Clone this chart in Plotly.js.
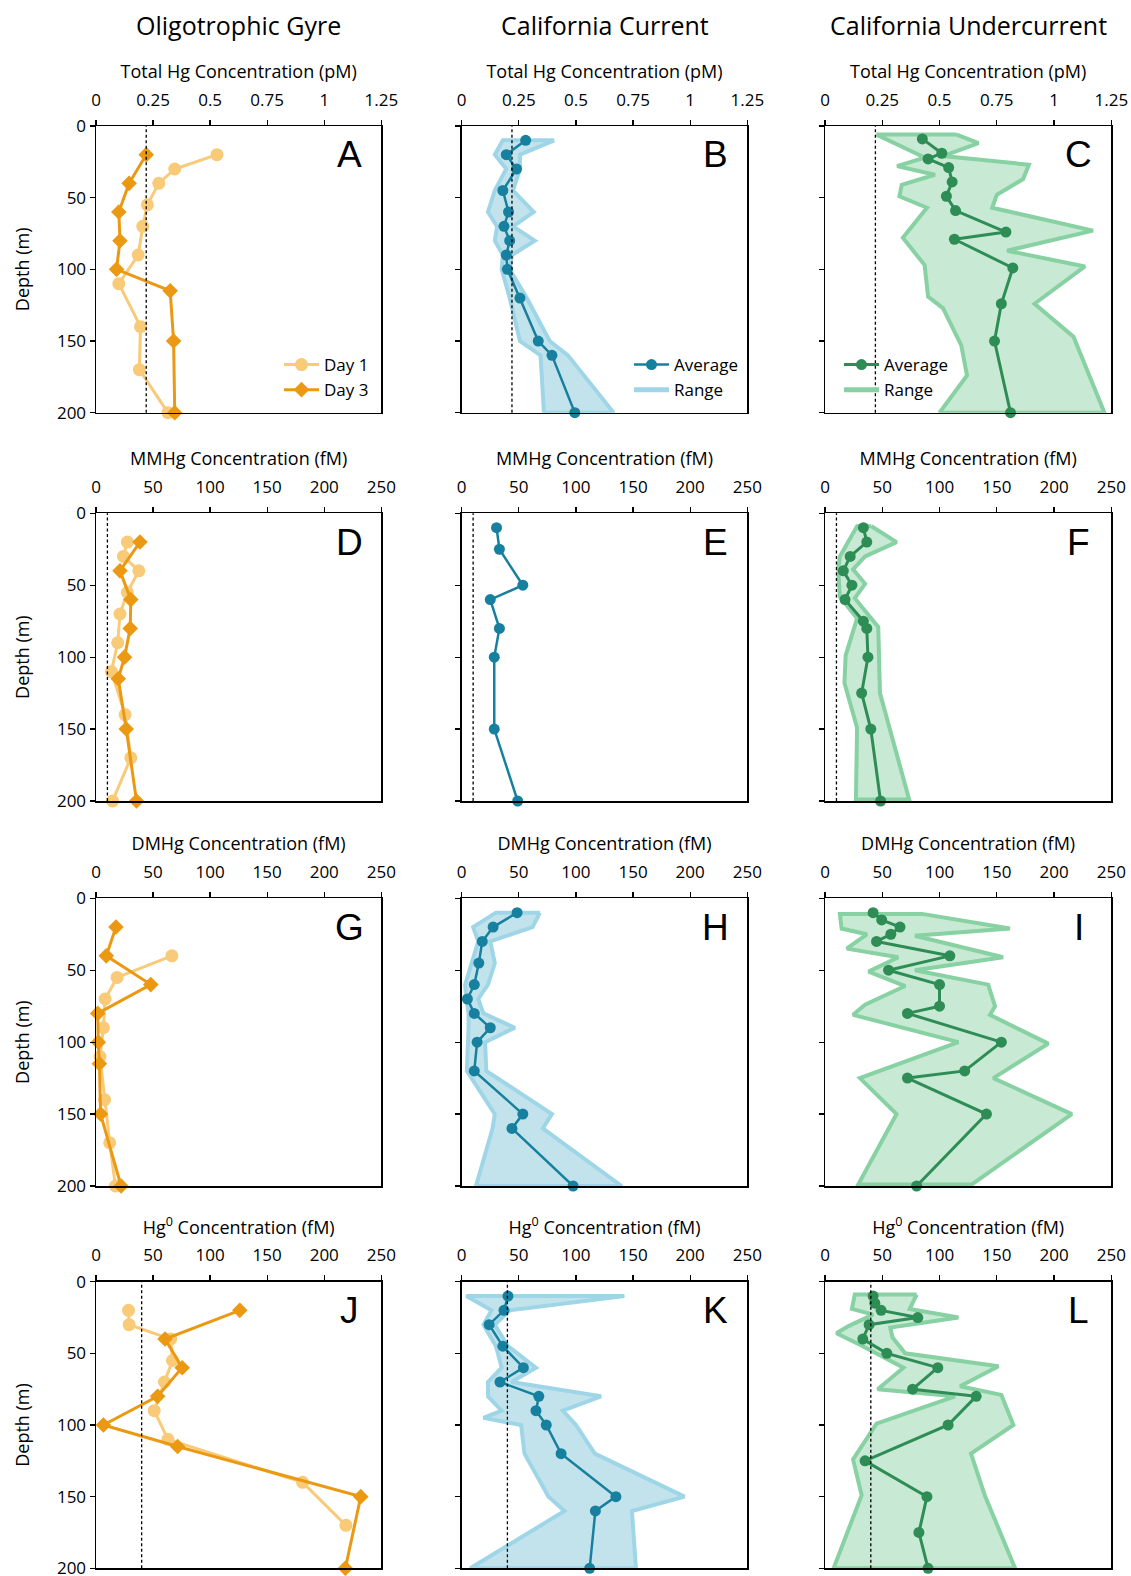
<!DOCTYPE html>
<html><head><meta charset="utf-8">
<script src="https://cdn.plot.ly/plotly-3.0.1.min.js"></script>
<style>html,body{margin:0;padding:0;background:#fff}#chart{width:1131px;height:1576px}</style>
</head><body><div id="chart"></div>
<script>
// ---------------- DATA ----------------
const columnTitles = ['Oligotrophic Gyre', 'California Current', 'California Undercurrent'];
const xAxisTitles = ['Total Hg Concentration (pM)', 'MMHg Concentration (fM)', 'DMHg Concentration (fM)', 'Hg<sup>0</sup> Concentration (fM)'];
const panelLetters = ['A','B','C','D','E','F','G','H','I','J','K','L'];
const depthTicks = [0, 50, 100, 150, 200];

// Oligotrophic gyre sampling depths (m)
const gyreDay1Depth = [20, 30, 40, 55, 70, 90, 110, 140, 170, 200];
const gyreDay3Depth = [20, 40, 60, 80, 100, 115, 150, 200];
// California Current average depths (m)
const ccDepth = [10, 20, 30, 45, 60, 70, 80, 90, 100, 120, 150, 160, 200];

// Detection limits (dashed lines)
const dlTHg = 0.22;   // pM
const dlMMHg = 10;    // fM
const dlHg0 = 40;     // fM

// A: Total Hg, gyre (pM)
const A_day1 = [0.53, 0.345, 0.275, 0.225, 0.205, 0.185, 0.10, 0.195, 0.19, 0.315];
const A_day3 = [0.22, 0.145, 0.10, 0.105, 0.09, 0.325, 0.34, 0.345];
// B: Total Hg, California Current (pM)
const B_avg = [0.28, 0.195, 0.24, 0.18, 0.205, 0.185, 0.21, 0.195, 0.20, 0.255, 0.335, 0.395, 0.495];
const B_max = [0.405, 0.255, 0.255, 0.225, 0.315, 0.225, 0.32, 0.22, 0.21, 0.285, 0.385, 0.465, 0.665];
const B_min = [0.18, 0.145, 0.195, 0.145, 0.115, 0.155, 0.145, 0.18, 0.175, 0.21, 0.255, 0.345, 0.36];
// C: Total Hg, California Undercurrent (pM)
const C_depth = [9, 19, 23, 29, 39, 49, 59, 74, 79, 99, 124, 150, 200];
const C_avg = [0.425, 0.51, 0.45, 0.54, 0.555, 0.53, 0.57, 0.79, 0.565, 0.82, 0.77, 0.74, 0.81];
const C_maxDepth = [6, 12, 21, 27, 37, 48, 57, 73, 87, 98, 124, 147, 200];
const C_max = [0.575, 0.67, 0.515, 0.89, 0.865, 0.75, 0.73, 1.17, 0.795, 1.135, 0.915, 1.085, 1.22];
const C_minDepth = [6, 22, 28, 34, 41, 49, 57, 78, 97, 119, 127, 153, 174, 200];
const C_min = [0.225, 0.435, 0.315, 0.48, 0.335, 0.325, 0.445, 0.34, 0.435, 0.45, 0.515, 0.595, 0.62, 0.50];

// D: MMHg, gyre (fM)
const D_day1 = [27.5, 24, 37.5, 27.5, 21, 19, 13.5, 25.5, 30.5, 14.5];
const D_day3 = [38.5, 21, 30.5, 30, 25, 19.5, 26.5, 35.5];
// E: MMHg, California Current (fM)
const E_depth = [10, 25, 50, 60, 80, 100, 150, 200];
const E_avg = [30.5, 33, 53.5, 25, 33, 28.5, 28.5, 49];
// F: MMHg, California Undercurrent (fM)
const F_depth = [10, 20, 30, 40, 50, 60, 75, 80, 100, 125, 150, 200];
const F_avg = [33.5, 36.5, 22, 16, 23.5, 17.5, 33.5, 36.5, 37.5, 32, 40, 48.5];
const F_maxDepth = [9, 20, 30, 39, 49, 59, 79, 99, 125, 199];
const F_max = [40.5, 62.5, 35, 24.5, 35, 26, 46.5, 47.5, 48, 73.5];
const F_minDepth = [9, 30, 39, 58, 73, 99, 118, 149, 199];
const F_min = [28, 13, 11.5, 13, 28, 18, 17, 28, 27];

// G: DMHg, gyre (fM)
const G_day1Depth = [40, 55, 70, 90, 110, 140, 170, 200];
const G_day1 = [66.5, 18.5, 8, 6.5, 3.5, 7.5, 12, 17];
const G_day3 = [17.5, 9, 48, 1.5, 2, 3, 4, 22];
// H: DMHg, California Current (fM)
const H_avg = [48.5, 27.5, 18, 15, 11, 5, 11, 25, 13.5, 11, 53.5, 44, 97.5];
const H_max = [68.5, 62, 25, 29, 23, 14.5, 19, 46.5, 20.5, 21.5, 79, 71, 140];
const H_min = [30, 10, 14.5, 9, 3, 4, 6, 6, 6, 4.5, 29, 27, 12.5];
// I: DMHg, California Undercurrent (fM)
const I_depth = [10, 15, 20, 25, 30, 40, 50, 60, 75, 80, 100, 120, 125, 150, 200];
const I_avg = [42, 49.5, 65.5, 57.5, 45, 109, 55.5, 100, 100, 72, 154, 122, 72, 141, 80];
const I_maxDepth = [11, 21, 26, 41, 50, 60, 75, 81, 101, 125, 150, 199];
const I_max = [86, 161.5, 78.5, 155.5, 78.5, 142.5, 148.5, 144, 195, 147, 215.5, 128];
const I_minDepth = [11, 21, 25, 35, 41, 51, 61, 74, 81, 100, 125, 150, 199];
const I_min = [13, 14.5, 36.5, 19, 64, 38, 70, 35, 24.5, 116.5, 30.5, 62.5, 29];

// J: Hg0, gyre (fM)
const J_day1Depth = [20, 30, 40, 55, 70, 90, 110, 140, 170];
const J_day1 = [28.5, 29, 65.5, 67, 60, 51, 63, 181, 219];
const J_day3 = [126, 60.5, 75.5, 54, 6.5, 71.5, 232, 218.5];
// K: Hg0, California Current (fM)
const K_avg = [40.5, 37, 24, 36, 54, 33.5, 67.5, 65, 74, 87, 135, 117, 112];
const K_max = [142.5, 42, 29, 40.5, 65, 43.5, 122, 88.5, 100, 116.5, 195, 149, 152.5];
const K_minDepth = [10, 20, 30, 45, 60, 70, 80, 90, 95, 100, 120, 150, 160, 200];
const K_min = [4, 26, 19, 30, 35, 23, 23, 35, 19, 52, 55, 76, 90, 7.5];
// L: Hg0, California Undercurrent (fM)
const L_depth = [10, 15, 20, 25, 30, 40, 50, 60, 75, 80, 100, 125, 150, 175, 200];
const L_avg = [42, 43.5, 49, 81, 38.5, 33, 54, 98.5, 76.5, 132, 107.5, 35, 89, 82, 90];
const L_maxDepth = [9, 19, 25, 32, 39, 50, 59, 73, 79, 100, 120, 149, 200];
const L_max = [80, 74, 116.5, 57, 59, 70, 151.5, 118, 154, 164.5, 127.5, 139.5, 166];
const L_minDepth = [9, 19, 23, 31, 36, 44, 60, 75, 80, 99, 124, 149, 200];
const L_min = [26, 23.5, 42, 20.5, 10, 30.5, 68.5, 46, 113.5, 45, 24.5, 32, 7.5];

// ---------------- STYLE ----------------
const FONT = 'Open Sans, Liberation Sans, Arial, sans-serif';
const LETTER_FONT = 'Liberation Sans, Arial, sans-serif';
const C_DAY1 = '#F9CA78';
const C_DAY3 = '#EB9912';
const C_CC = '#17809F';
const C_CC_LINE = '#9FD6E7';
const C_CC_FILL = '#C3E3EC';
const C_CU = '#2E8D55';
const C_CU_LINE = '#87D1A3';
const C_CU_FILL = '#C8E9D4';

const W = 1131, H = 1576;
const colPx = [[96, 381.3], [461.7, 747.3], [825, 1111.3]];
const rowPx = [[126, 412.7], [513.3, 801], [898.3, 1186], [1281.7, 1568.3]];

function axId(i) { return i === 1 ? '' : String(i); }

function profile(panel, x, y, color, symbol, size, width, name, legend, showlegend) {
  return {
    type: 'scatter', mode: 'lines+markers', x: x, y: y,
    xaxis: 'x' + axId(panel), yaxis: 'y' + axId(panel),
    line: {color: color, width: width},
    marker: {color: color, symbol: symbol, size: size, line: {width: 0}},
    name: name, legend: legend || 'legend', showlegend: !!showlegend,
    cliponaxis: false, hoverinfo: 'x+y'
  };
}
function band(panel, maxX, maxY, minX, minY, lineColor, fillColor) {
  const x = maxX.concat(minX.slice().reverse());
  const y = maxY.concat(minY.slice().reverse());
  x.push(x[0]); y.push(y[0]);
  return {
    type: 'scatter', mode: 'lines', x: x, y: y, fill: 'toself', fillcolor: fillColor,
    line: {color: lineColor, width: 4},
    xaxis: 'x' + axId(panel), yaxis: 'y' + axId(panel),
    showlegend: false, hoverinfo: 'skip', cliponaxis: false
  };
}
function legendLine(panel, color, legend) {
  return {
    type: 'scatter', mode: 'lines', x: [null], y: [null], name: 'Range',
    line: {color: color, width: 5}, xaxis: 'x' + axId(panel), yaxis: 'y' + axId(panel),
    legend: legend, showlegend: true
  };
}

const traces = [
  // Row 1
  profile(1, A_day1, gyreDay1Depth, C_DAY1, 'circle', 13, 3, 'Day 1', 'legend', true),
  profile(1, A_day3, gyreDay3Depth, C_DAY3, 'diamond', 12, 3, 'Day 3', 'legend', true),
  band(2, B_max, ccDepth, B_min, ccDepth, C_CC_LINE, C_CC_FILL),
  profile(2, B_avg, ccDepth, C_CC, 'circle', 11, 2.5, 'Average', 'legend2', true),
  legendLine(2, C_CC_LINE, 'legend2'),
  band(3, C_max, C_maxDepth, C_min, C_minDepth, C_CU_LINE, C_CU_FILL),
  profile(3, C_avg, C_depth, C_CU, 'circle', 11, 3, 'Average', 'legend3', true),
  legendLine(3, C_CU_LINE, 'legend3'),
  // Row 2
  profile(4, D_day1, gyreDay1Depth, C_DAY1, 'circle', 13, 3, 'Day 1'),
  profile(4, D_day3, gyreDay3Depth, C_DAY3, 'diamond', 12, 3, 'Day 3'),
  profile(5, E_avg, E_depth, C_CC, 'circle', 11, 2.5, 'Average'),
  band(6, F_max, F_maxDepth, F_min, F_minDepth, C_CU_LINE, C_CU_FILL),
  profile(6, F_avg, F_depth, C_CU, 'circle', 11, 3, 'Average'),
  // Row 3
  profile(7, G_day1, G_day1Depth, C_DAY1, 'circle', 13, 3, 'Day 1'),
  profile(7, G_day3, gyreDay3Depth, C_DAY3, 'diamond', 12, 3, 'Day 3'),
  band(8, H_max, ccDepth, H_min, ccDepth, C_CC_LINE, C_CC_FILL),
  profile(8, H_avg, ccDepth, C_CC, 'circle', 11, 2.5, 'Average'),
  band(9, I_max, I_maxDepth, I_min, I_minDepth, C_CU_LINE, C_CU_FILL),
  profile(9, I_avg, I_depth, C_CU, 'circle', 11, 3, 'Average'),
  // Row 4
  profile(10, J_day1, J_day1Depth, C_DAY1, 'circle', 13, 3, 'Day 1'),
  profile(10, J_day3, gyreDay3Depth, C_DAY3, 'diamond', 12, 3, 'Day 3'),
  band(11, K_max, ccDepth, K_min, K_minDepth, C_CC_LINE, C_CC_FILL),
  profile(11, K_avg, ccDepth, C_CC, 'circle', 11, 2.5, 'Average'),
  band(12, L_max, L_maxDepth, L_min, L_minDepth, C_CU_LINE, C_CU_FILL),
  profile(12, L_avg, L_depth, C_CU, 'circle', 11, 3, 'Average')
];

const legendBase = {
  bgcolor: 'rgba(0,0,0,0)', borderwidth: 0, font: {family: FONT, size: 17, color: '#000'},
  xanchor: 'left', yanchor: 'top', tracegroupgap: 0, itemwidth: 35, orientation: 'v'
};

const layout = {
  width: W, height: H,
  margin: {l: 0, r: 0, t: 0, b: 0, autoexpand: false},
  paper_bgcolor: '#fff', plot_bgcolor: '#fff',
  font: {family: FONT, size: 17, color: '#000'},
  showlegend: true,
  legend: Object.assign({}, legendBase, {x: 279 / W, y: 1 - 347 / H}),
  legend2: Object.assign({}, legendBase, {x: 629 / W, y: 1 - 347 / H}),
  legend3: Object.assign({}, legendBase, {x: 839 / W, y: 1 - 347 / H}),
  annotations: [],
  shapes: []
};

const dlByRow = [dlTHg, dlMMHg, null, dlHg0];
for (let r = 0; r < 4; r++) {
  for (let c = 0; c < 3; c++) {
    const i = r * 3 + c + 1, s = axId(i);
    layout['xaxis' + s] = {
      domain: [colPx[c][0] / W, colPx[c][1] / W], anchor: 'y' + s, side: 'top',
      range: r === 0 ? [0, 1.25] : [0, 250], dtick: r === 0 ? 0.25 : 50, tick0: 0,
      ticks: 'outside', ticklen: 5, tickwidth: 1.3, tickcolor: '#000',
      ticklabelstandoff: 7, ticklabeloverflow: 'allow',
      showline: true, linecolor: '#000', linewidth: 1.5, mirror: true,
      showgrid: false, zeroline: false, automargin: false, fixedrange: true,
      tickfont: {family: FONT, size: 17, color: '#000'},
      title: {text: xAxisTitles[r], font: {family: FONT, size: 18, color: '#000'}, standoff: 4}
    };
    const yax = {
      domain: [1 - rowPx[r][1] / H, 1 - rowPx[r][0] / H], anchor: 'x' + s,
      range: [200, 0], tickvals: depthTicks,
      ticks: 'outside', ticklen: 5, tickwidth: 1.3, tickcolor: '#000',
      ticklabeloverflow: 'allow',
      showline: true, linecolor: '#000', linewidth: 1.5, mirror: true,
      showgrid: false, zeroline: false, automargin: false, fixedrange: true,
      showticklabels: c === 0,
      tickfont: {family: FONT, size: 17, color: '#000'}
    };
    if (c === 0) yax.title = {text: 'Depth (m)', font: {family: FONT, size: 18, color: '#000'}, standoff: 22};
    layout['yaxis' + s] = yax;
    layout.annotations.push({
      text: panelLetters[i - 1], xref: 'x' + s + ' domain', yref: 'y' + s + ' domain',
      x: 0.887, y: 0.9, xanchor: 'center', yanchor: 'middle', showarrow: false,
      font: {family: LETTER_FONT, size: 37, color: '#000'}
    });
    const dl = dlByRow[r];
    if (dl !== null) {
      layout.shapes.push({
        type: 'line', xref: 'x' + s, yref: 'y' + s + ' domain', x0: dl, x1: dl, y0: 0, y1: 1,
        line: {color: '#000', width: 1.3, dash: '3px,2.5px'}, layer: 'above'
      });
    }
  }
}
for (let c = 0; c < 3; c++) {
  layout.annotations.push({
    text: columnTitles[c], xref: 'paper', yref: 'paper',
    x: (colPx[c][0] + colPx[c][1]) / 2 / W, y: 1 - 25 / H, xanchor: 'center', yanchor: 'middle',
    showarrow: false, font: {family: FONT, size: 25, color: '#000'}
  });
}

Plotly.newPlot('chart', traces, layout, {displayModeBar: false, staticPlot: true});
</script>
</body></html>
